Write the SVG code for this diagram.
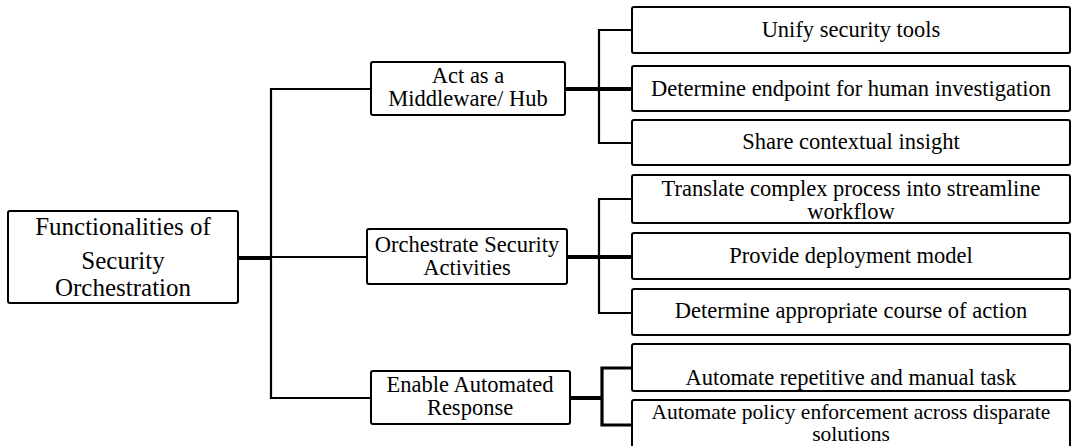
<svg xmlns="http://www.w3.org/2000/svg" width="1072" height="446" viewBox="0 0 1072 446">
<style>
.box{fill:#fff;stroke:#000;stroke-width:2}
.t{font-family:"Liberation Serif","Times New Roman",serif;font-size:22.5px;fill:#000;text-anchor:middle}
.root{font-size:25px}
.sm{font-size:21.5px}
.thin{stroke:#000;stroke-width:2.2;fill:none}
.thick{stroke:#000;stroke-width:4;fill:none}
.mid{stroke:#000;stroke-width:3.2;fill:none}
</style>
<rect width="1072" height="446" fill="#fff"/>
<g id="connectors">
<line class="thick" x1="238" y1="258" x2="272" y2="258"/>
<polyline class="thin" points="371,89 271,89 271,398 371,398"/>
<line class="thin" x1="271" y1="257" x2="367" y2="257"/>
<line class="thick" x1="565" y1="89" x2="632" y2="89"/>
<polyline class="thin" points="632,30 599,30 599,143 632,143"/>
<line class="thick" x1="567" y1="257" x2="632" y2="257"/>
<polyline class="thin" points="632,199 599,199 599,313 632,313"/>
<line class="thick" x1="570" y1="398" x2="603" y2="398"/>
<polyline class="mid" points="632,368 602,368 602,425 632,425"/>
</g>
<g id="root">
<rect class="box" x="8" y="211" width="230" height="92" rx="2"/>
<text class="t root" x="123" y="235">Functionalities of</text>
<text class="t root" x="123" y="269">Security</text>
<text class="t root" x="123" y="296">Orchestration</text>
</g>
<g id="middleware">
<rect class="box" x="371" y="62" width="194" height="53" rx="2"/>
<text class="t" x="468" y="83">Act as a</text>
<text class="t" x="468" y="106">Middleware/ Hub</text>
</g>
<g id="orchestrate">
<rect class="box" x="367" y="229" width="200" height="55" rx="2"/>
<text class="t" x="467" y="252">Orchestrate Security</text>
<text class="t" x="467" y="275">Activities</text>
</g>
<g id="automated">
<rect class="box" x="371" y="371" width="199" height="53" rx="2"/>
<text class="t" x="470" y="392">Enable Automated</text>
<text class="t" x="470" y="415">Response</text>
</g>
<g id="unify">
<rect class="box" x="632" y="7" width="438" height="46" rx="2"/>
<text class="t" x="851" y="37">Unify security tools</text>
</g>
<g id="endpoint">
<rect class="box" x="632" y="66" width="438" height="45" rx="2"/>
<text class="t" x="851" y="96">Determine endpoint for human investigation</text>
</g>
<g id="share">
<rect class="box" x="632" y="120" width="438" height="45" rx="2"/>
<text class="t" x="851" y="149">Share contextual insight</text>
</g>
<g id="translate">
<rect class="box" x="632" y="175" width="438" height="48" rx="2"/>
<text class="t" x="851" y="196">Translate complex process into streamline</text>
<text class="t" x="851" y="219">workflow</text>
</g>
<g id="deploy">
<rect class="box" x="632" y="233" width="438" height="46" rx="2"/>
<text class="t" x="851" y="263">Provide deployment model</text>
</g>
<g id="course">
<rect class="box" x="632" y="289" width="438" height="46" rx="2"/>
<text class="t" x="851" y="318">Determine appropriate course of action</text>
</g>
<g id="repetitive">
<rect class="box" x="632" y="344" width="438" height="47" rx="2"/>
<text class="t" x="851" y="385">Automate repetitive and manual task</text>
</g>
<g id="policy">
<rect class="box" x="632" y="400" width="438" height="52" rx="2"/>
<text class="t sm" x="851" y="419">Automate policy enforcement across disparate</text>
<text class="t sm" x="851" y="441">solutions</text>
</g>
</svg>
